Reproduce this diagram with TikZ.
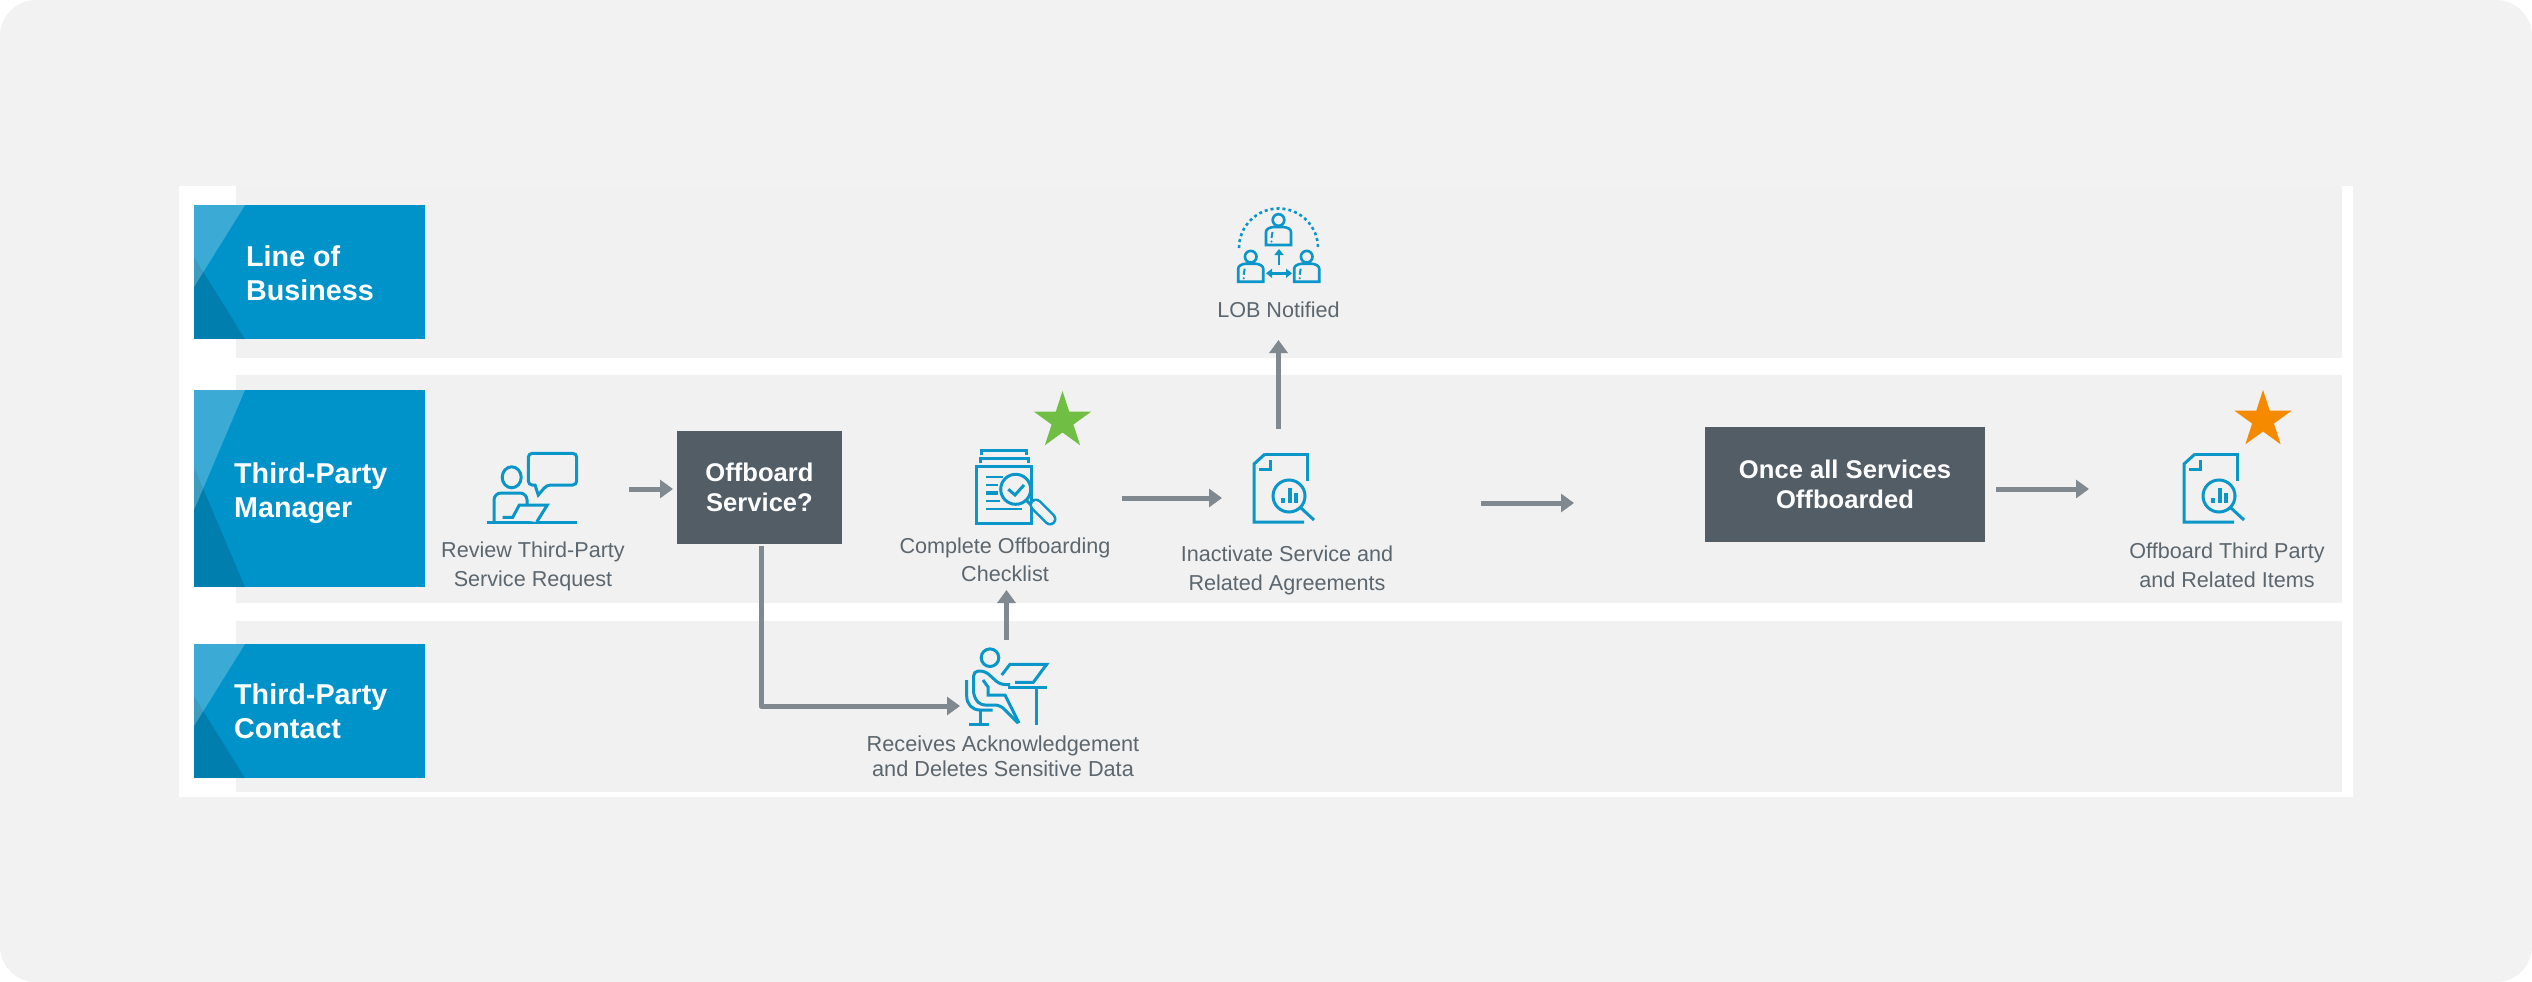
\documentclass[tikz,border=0pt]{standalone}
\usepackage{fontspec}
\setmainfont{Liberation Sans}
\usetikzlibrary{arrows.meta,shapes.geometric}
\definecolor{pagebg}{HTML}{F2F2F2}
\definecolor{lane}{HTML}{F1F1F1}
\definecolor{laneblue}{HTML}{0093C9}
\definecolor{darkbox}{HTML}{535D66}
\definecolor{flow}{HTML}{808890}
\definecolor{icon}{HTML}{0A96C8}
\definecolor{label}{HTML}{5C666E}
\definecolor{stargreen}{HTML}{70BF44}
\definecolor{starorange}{HTML}{F58A00}
\tikzset{
  lanebox/.style={fill=laneblue,draw=none,minimum width=231pt,inner sep=0pt,outer sep=0pt},
  lanetext/.style={anchor=west,align=left,text=white,inner sep=0pt,font=\fontsize{28.7}{34}\selectfont\bfseries},
  decision/.style={fill=darkbox,text=white,align=center,inner sep=0pt,outer sep=0pt,font=\fontsize{25.6}{30.5}\selectfont\bfseries},
  caption/.style={text=label,align=center,inner sep=0pt,outer sep=0pt,font=\fontsize{21.6}{29}\selectfont},
  iconbox/.style={inner sep=0pt,outer sep=0pt,draw=none},
  flowline/.style={draw=flow,line width=5pt,-{Triangle[width=18pt,length=13pt]}},
  iconline/.style={draw=icon,line width=3pt},
  starmark/.style={star,star points=5,star point ratio=2.618,minimum size=60pt,inner sep=0pt,outer sep=0pt,draw=none},
  pics/docicon/.style={code={
    \draw[iconline] (11,0) -- (53,0) -- (53,27);
    \draw[iconline] (50,68) -- (0,68) -- (0,10) -- (11,0);
    \draw[iconline] (16,6) -- (16,15) -- (5,15);
    \draw[iconline] (35,42) circle[radius=16];
    \draw[iconline] (47,54) -- (60,66);
    \draw[draw=icon,line width=3.5pt] (29,49) -- (29,44) (36,49) -- (36,34) (42,49) -- (42,39);
  }},
  pics/personicon/.style={code={
    \draw[draw=icon,line width=2.6pt] (0,0) circle[radius=5.8];
    \draw[draw=icon,line width=2.6pt] (-12.5,25) -- (-12.5,12) .. controls (-12.5,9) and (-9,7.5) .. (-5,7) -- (5,7) .. controls (9,7.5) and (12.5,9) .. (12.5,12) -- (12.5,25) -- cycle;
    \draw[draw=icon,line width=2pt] (-6,12) -- (-7,18);
    \fill[icon] (-7,21.5) circle[radius=1.1];
  }}
}
\begin{document}
\begin{tikzpicture}[x=1pt,y=-1pt]
\useasboundingbox (0,0) rectangle (2532,982);
\fill[white] (0,0) rectangle (2532,982);
\fill[pagebg,rounded corners=36pt] (0,0) rectangle (2532,982);
% frame and lanes
\fill[white] (179,186) rectangle (2353,797);
\fill[lane] (236,186) rectangle (2342,358);
\fill[lane] (236,375) rectangle (2342,603);
\fill[lane] (236,621) rectangle (2342,792);
% lane headers
\node[lanebox,minimum height=134pt] (boxlob) at (309.5,272) {};
\node[lanebox,minimum height=197pt] (boxtpm) at (309.5,488.5) {};
\node[lanebox,minimum height=134pt] (boxtpc) at (309.5,711) {};
\fill[black,opacity=.13] (194,257) -- (245,339) -- (194,339) -- cycle;
\fill[white,opacity=.23] (194,205) -- (245,205) -- (194,287) -- cycle;
\fill[black,opacity=.13] (194,467) -- (245,587) -- (194,587) -- cycle;
\fill[white,opacity=.23] (194,390) -- (245,390) -- (194,510) -- cycle;
\fill[black,opacity=.13] (194,696) -- (245,778) -- (194,778) -- cycle;
\fill[white,opacity=.23] (194,644) -- (245,644) -- (194,726) -- cycle;
\node[lanetext] (tlob) at (246,273) {Line of\\Business};
\node[lanetext] (ttpm) at (234,493) {Third-Party\\Manager};
\node[lanetext] (ttpc) at (234,711) {Third-Party\\Contact};
% decision boxes
\node[decision,minimum width=165pt,minimum height=113pt] (offboard) at (759.5,487.5) {Offboard\\Service?};
\node[decision,minimum width=280pt,minimum height=115pt] (once) at (1845,484.5) {Once all Services\\Offboarded};
% icon boxes
\node[iconbox,minimum width=90pt,minimum height=70pt] (review) at (532,488) {};
\node[iconbox,minimum width=81pt,minimum height=78pt] (checklist) at (1016.5,488) {};
\node[iconbox,minimum width=60pt,minimum height=68pt] (inact) at (1284,488) {};
\node[iconbox,minimum width=81pt,minimum height=78pt] (lobicon) at (1279,245.5) {};
\node[iconbox,minimum width=81pt,minimum height=78pt] (desk) at (1006.5,687) {};
\node[iconbox,minimum width=60pt,minimum height=68pt] (thirdicon) at (2214,488) {};
% captions
\node[caption] (lreview) at (533,566.5) {Review Third-Party\\Service Request};
\node[caption,minimum height=60pt,font=\fontsize{21.6}{28}\selectfont] (lcheck) at (1005,560) {Complete Offboarding\\Checklist};
\node[caption] (linact) at (1287,570) {Inactivate Service and\\Related Agreements};
\node[caption,minimum height=60pt] (llob) at (1278.5,310) {LOB Notified};
\node[caption] (lthird) at (2227,565.5) {Offboard Third Party\\and Related Items};
\node[caption,font=\fontsize{21.7}{24.5}\selectfont] (ldesk) at (1003,756) {Receives Acknowledgement\\and Deletes Sensitive Data};
% stars
\node[starmark,fill=stargreen] (stargreen) at (1062.5,421) {};
\node[starmark,fill=starorange] (starorange) at (2263,420) {};
% review icon
\draw[iconline] (487.3,522.3) -- (577.3,522.3);
\draw[iconline] (511.7,477.3) ellipse[x radius=9.5,y radius=10.5];
\draw[iconline,rounded corners=7pt] (494,522) -- (494,493) -- (527,493) -- (527,504);
\draw[iconline,fill=lane,rounded corners=4pt] (528.3,453.3) -- (576.7,453.3) -- (576.7,485) -- (546.7,485) [sharp corners] -- (538.3,495) -- (535,485) [rounded corners=4pt] -- (528.3,485) -- cycle;
\draw[iconline,fill=lane] (502.7,517.3) -- (512.7,517.3) -- (519.3,505) -- (547.3,505) -- (536.7,522);
% checklist icon
\draw[iconline] (981.7,455) -- (981.7,450) -- (1026,450) -- (1026,455);
\draw[iconline] (980,463.3) -- (980,458.3) -- (1028.3,458.3) -- (1028.3,463.3);
\draw[iconline] (976.7,466.7) rectangle (1031,523.3);
\draw[draw=icon,line width=2.2pt] (986,476.7) -- (1003,476.7) (986,485) -- (998,485) (986,500.7) -- (1000,500.7) (986,509.3) -- (1021.7,509.3);
\draw[draw=icon,line width=4pt] (986,493.3) -- (998,493.3);
\draw[iconline] (1026,500) -- (1034,508);
\draw[draw=icon,line width=13pt,line cap=round] (1036,505) -- (1050,519);
\draw[draw=lane,line width=8pt,line cap=round] (1036,505) -- (1050,519);
\draw[iconline,fill=lane] (1015.7,489.3) circle[radius=15];
\draw[iconline] (1008.3,489.3) -- (1015,495) -- (1024,485);
% inactivate and offboard document icons
\pic at (1254,454) {docicon};
\pic at (2184,454) {docicon};
% LOB icon
\draw[draw=icon,line width=2.6pt,dash pattern=on 3pt off 3pt] (1239,248) .. controls (1239,226.2) and (1256.7,208.5) .. (1278.5,208.5) .. controls (1300.3,208.5) and (1318,226.2) .. (1318,248);
\pic at (1278.5,220) {personicon};
\pic at (1250.7,256.7) {personicon};
\pic at (1306.7,256.7) {personicon};
\draw[draw=icon,line width=2.4pt,-{Triangle[width=9pt,length=6pt]}] (1279,265) -- (1279,249);
\draw[draw=icon,line width=2.4pt,{Triangle[width=9pt,length=6pt]}-{Triangle[width=9pt,length=6pt]}] (1266,273.3) -- (1292,273.3);
% desk icon
\draw[iconline] (990,657.7) circle[radius=8.8];
\draw[iconline] (966.7,680) -- (966.7,696) .. controls (966.7,704) and (972,710) .. (980,710) -- (992.7,710);
\draw[iconline] (980,710) -- (980,723);
\draw[iconline] (969.3,724) -- (989.3,724);
\draw[iconline,rounded corners=5pt] (1010,684.5) -- (1000,684.5) -- (985,671) -- (973.5,671) -- (973.5,696) -- (980,705) -- (1000,705) -- (1018,723);
\draw[iconline] (983,680) -- (988,687) -- (988,695) -- (1005,695) -- (1019,723);
\draw[iconline] (1008,687) -- (1046.7,687);
\draw[iconline] (1036,687) -- (1036,725);
\draw[iconline] (1001.7,675) -- (1010,664.3) -- (1046.7,664.3) -- (1033.3,682.3) -- (1015,682.3);
% connectors
\coordinate (gapstart) at (1481,503);
\coordinate (gapend) at (1574,503);
\draw[flowline,shorten <=52pt,shorten >=4pt] ([yshift=-1pt]review.east) -- ([yshift=-1pt]review.east -| offboard.west);
\draw[flowline,line join=round,shorten <=2pt,shorten >=6pt] ([xshift=1.5pt]offboard.south) |- ([yshift=-19pt]desk.west);
\draw[flowline,shorten <=8pt] (desk.north) -- (desk.north |- lcheck.south);
\draw[flowline,shorten <=64.5pt,shorten >=32pt] ([yshift=-10pt]checklist.east) -- ([yshift=-10pt]checklist.east -| inact.west);
\draw[flowline,shorten <=25pt] (llob.south |- inact.north) -- (llob.south);
\draw[flowline] (gapstart) -- (gapend);
\draw[flowline,shorten <=11pt,shorten >=95pt] ([yshift=-4.5pt]once.east) -- ([yshift=-4.5pt]once.east -| thirdicon.west);
\end{tikzpicture}
\end{document}
